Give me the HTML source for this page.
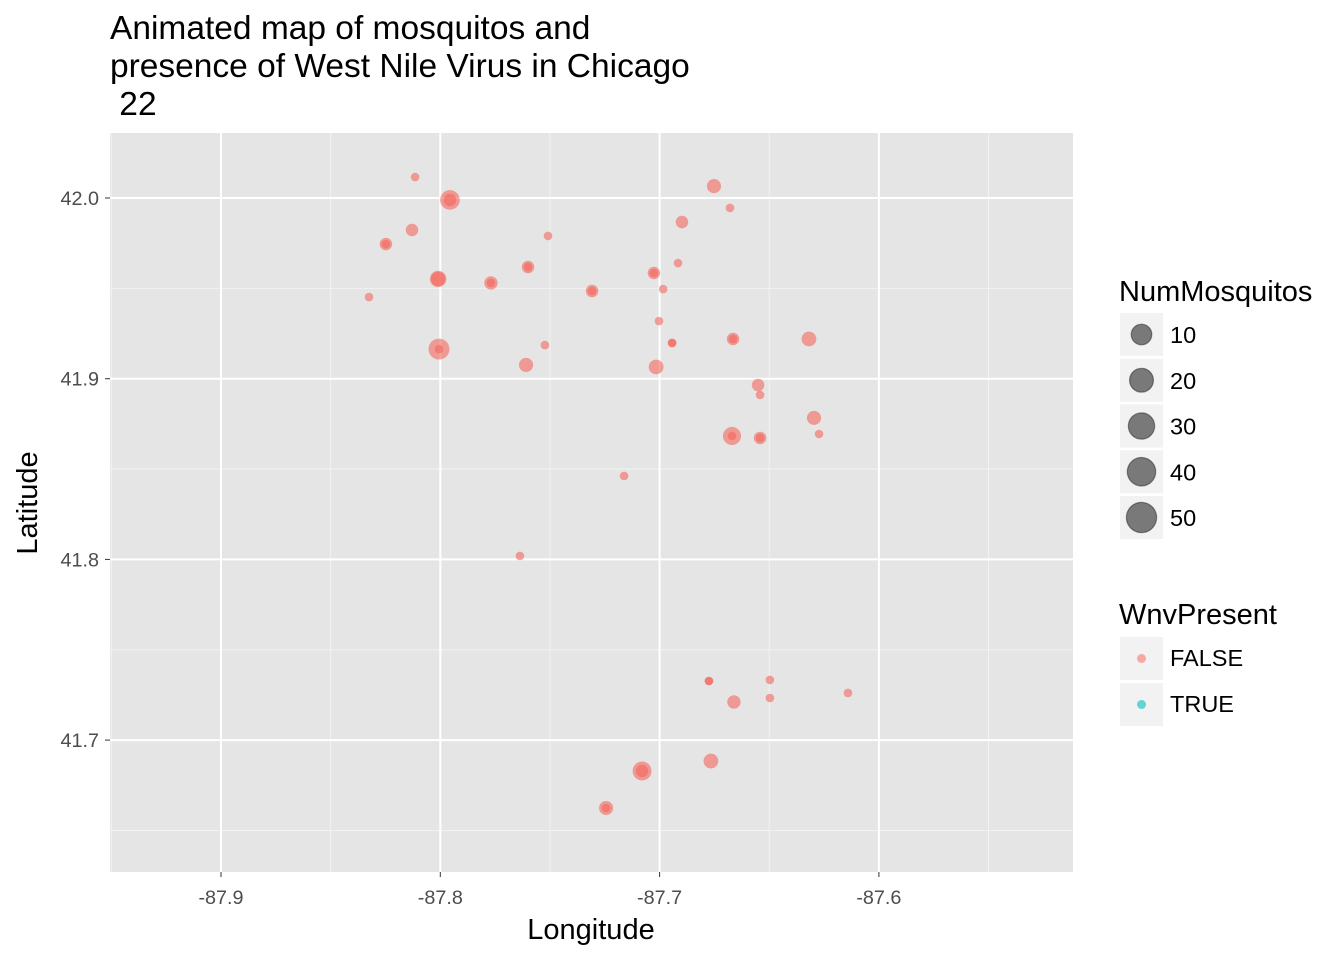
<!DOCTYPE html>
<html><head><meta charset="utf-8"><style>
html,body{margin:0;padding:0;background:#fff;}
svg{display:block;font-family:"Liberation Sans",Arial,sans-serif;}
</style></head><body>
<svg id="chart" width="1344" height="960" viewBox="0 0 1344 960">
<g font-size="33.5" fill="#000">
<text x="110" y="39">Animated map of mosquitos and</text>
<text x="110" y="77">presence of West Nile Virus in Chicago</text>
<text x="110" y="115" xml:space="preserve"> 22</text>
</g>
<rect x="110" y="133" width="963" height="739" fill="#e5e5e5"/>
<g id="grid"></g>
<g id="points"></g>
<g id="xticks" font-size="19.8" fill="#4d4d4d" text-anchor="middle"></g>
<g id="yticks" font-size="19.8" fill="#4d4d4d" text-anchor="end"></g>
<text x="591" y="939" font-size="29" text-anchor="middle">Longitude</text>
<text transform="translate(37,503) rotate(-90)" font-size="29" text-anchor="middle">Latitude</text>
<g>
<text x="1119" y="301" font-size="29">NumMosquitos</text>
<g id="sizeLegend"></g>
</g>
<g>
<text x="1119" y="624" font-size="29">WnvPresent</text>
<rect x="1120" y="637" width="43" height="43" fill="#f2f2f2"/>
<circle cx="1141.5" cy="658.5" r="4.5" fill="#F8766D" fill-opacity="0.6"/>
<text x="1170" y="666" font-size="23.5">FALSE</text>
<rect x="1120" y="683" width="43" height="43" fill="#f2f2f2"/>
<circle cx="1141.5" cy="704.5" r="4.5" fill="#00BFC4" fill-opacity="0.6"/>
<text x="1170" y="712" font-size="23.5">TRUE</text>
</g>
</svg>
<script>
const lonValues=[-87.8115,-87.7956,-87.7956,-87.6752,-87.6679,-87.6898,-87.7509,-87.8129,-87.8248,-87.8248,-87.76,-87.76,-87.6916,-87.7026,-87.7026,-87.801,-87.801,-87.7769,-87.7769,-87.7308,-87.7308,-87.6984,-87.8325,-87.7003,-87.6665,-87.6665,-87.6319,-87.6943,-87.6943,-87.7523,-87.8006,-87.8006,-87.7609,-87.7016,-87.6551,-87.6542,-87.6296,-87.6273,-87.667,-87.667,-87.6542,-87.6542,-87.7162,-87.7637,-87.6775,-87.6775,-87.6497,-87.6141,-87.6497,-87.6661,-87.6766,-87.708,-87.708,-87.7244,-87.7244];
const latValues=[42.0116,41.9989,41.9989,42.0066,41.9945,41.9867,41.979,41.9823,41.9745,41.9745,41.9618,41.9618,41.964,41.9585,41.9585,41.9552,41.9552,41.953,41.953,41.9485,41.9485,41.9496,41.9452,41.9319,41.922,41.922,41.922,41.9198,41.9198,41.9186,41.9164,41.9164,41.9076,41.9065,41.8965,41.891,41.8783,41.8694,41.8683,41.8683,41.8672,41.8672,41.8462,41.8019,41.7327,41.7327,41.7333,41.7261,41.7233,41.7211,41.6884,41.6829,41.6829,41.6624,41.6624];
const numValues=[1,9,2,3,1,2,1,2,2,1,2,1,1,2,1,5,3,2.5,1,2,1,1,1,1,2,1,3.5,1,1,1,11,1,3,3.5,2,1,3,1,7,1,2,1,1,1,1,1,1,1,1,2.5,3.5,8,2,3,1];
const xTicks=[-87.9,-87.8,-87.7,-87.6];
const xTickLabels=["-87.9","-87.8","-87.7","-87.6"];
const yTicks=[41.7,41.8,41.9,42.0];
const yTickLabels=["41.7","41.8","41.9","42.0"];
const legendSizes=[10,20,30,40,50];
const NS="http://www.w3.org/2000/svg";
const P={x0:110,x1:1073,y0:133,y1:872};
function xs(v){return 221+(v+87.9)*2193;}
function ys(v){return 198+(42.0-v)*1807;}
function rs(n){return 4.3+1.95*Math.sqrt(Math.max(n-1,0));}
function mk(tag,attrs,parent){const e=document.createElementNS(NS,tag);for(const k in attrs)e.setAttribute(k,attrs[k]);parent.appendChild(e);return e;}
const grid=document.getElementById('grid');
const minorX=[-87.95,-87.85,-87.75,-87.65,-87.55];
const minorY=[41.65,41.75,41.85,41.95];
minorX.forEach(v=>{const l=mk('line',{x1:xs(v),x2:xs(v),y1:P.y0,y2:P.y1,stroke:'#f2f2f2','stroke-width':1},grid);

});
minorY.forEach(v=>{const l=mk('line',{x1:P.x0,x2:P.x1,y1:ys(v),y2:ys(v),stroke:'#f2f2f2','stroke-width':1},grid);

});
const xt=document.getElementById('xticks');
xTicks.forEach((v,i)=>{const l=mk('line',{x1:xs(v),x2:xs(v),y1:P.y0,y2:P.y1,stroke:'#fff','stroke-width':2},grid);


const tk=mk('line',{x1:xs(v),x2:xs(v),y1:P.y1,y2:P.y1+5,stroke:'#333','stroke-width':1},xt);


const t=mk('text',{x:xs(v),y:904},xt);t.textContent=xTickLabels[i];

});
const yt=document.getElementById('yticks');
yTicks.forEach((v,i)=>{const l=mk('line',{x1:P.x0,x2:P.x1,y1:ys(v),y2:ys(v),stroke:'#fff','stroke-width':2},grid);


const tk=mk('line',{x1:P.x0-5,x2:P.x0,y1:ys(v),y2:ys(v),stroke:'#333','stroke-width':1},yt);


const t=mk('text',{x:99,y:ys(v)+7},yt);t.textContent=yTickLabels[i];

});
const pts=document.getElementById('points');
lonValues.forEach((lo,i)=>{const c=mk('circle',{cx:xs(lo),cy:ys(latValues[i]),r:rs(numValues[i]),fill:'#F4665C','fill-opacity':0.6},pts);

});
const sl=document.getElementById('sizeLegend');
legendSizes.forEach((n,i)=>{const y=313+i*45.75;
const b=mk('rect',{x:1120,y:y,width:43,height:43,fill:'#f2f2f2'},sl);


const c=mk('circle',{cx:1141.5,cy:y+21.5,r:rs(n)*0.62+4,fill:'#000','fill-opacity':0.5,stroke:'#000','stroke-opacity':0.4,'stroke-width':1.2},sl);


const t=mk('text',{x:1170,y:y+30,'font-size':23.5},sl);t.textContent=String(n);

});
</script>
</body></html>
